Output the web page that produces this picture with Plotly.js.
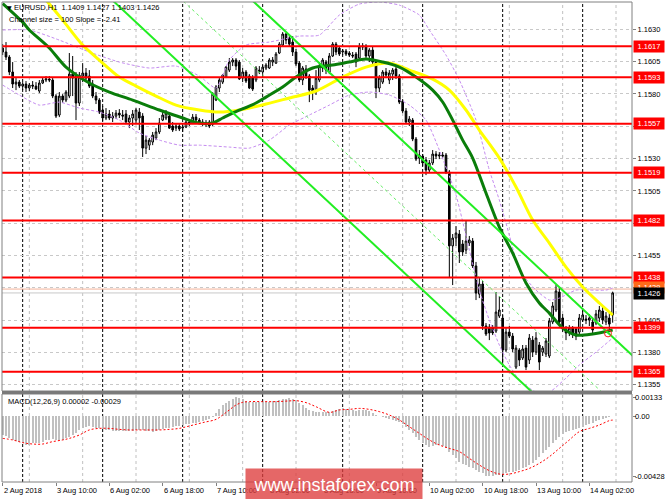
<!DOCTYPE html>
<html><head><meta charset="utf-8">
<script src="https://cdn.plot.ly/plotly-3.0.1.min.js"></script>
<style>html,body{margin:0;padding:0;background:#fff;}#chart{width:665px;height:499px;}</style>
</head><body><div id="chart"></div>
<script>
// ---------- DATA (EURUSD H1, 2 Aug 18:00 .. 14 Aug 09:00) ----------
const opens = [1.16155,1.16125,1.16086,1.15970,1.15877,1.15892,1.15861,1.15877,1.15846,1.15869,1.15861,1.15823,1.15885,1.15908,1.15916,1.15908,1.15784,1.15637,1.15784,1.15753,
1.15784,1.15954,1.15946,1.15730,1.15939,1.15962,1.15939,1.15877,1.15784,1.15753,1.15676,1.15614,1.15645,1.15614,1.15629,1.15652,1.15637,1.15645,1.15583,1.15614,
1.15598,1.15660,1.15629,1.15381,1.15404,1.15428,1.15459,1.15506,1.15598,1.15614,1.15629,1.15552,1.15536,1.15552,1.15536,1.15544,1.15583,1.15575,1.15621,1.15598,
1.15583,1.15567,1.15583,1.15567,1.15753,1.15846,1.15892,1.15931,1.15985,1.16047,1.16063,1.16047,1.15923,1.15970,1.15939,1.15923,1.15908,1.15985,1.15970,1.16001,
1.16001,1.16047,1.16039,1.16117,1.16179,1.16264,1.16233,1.16202,1.16125,1.16039,1.15908,1.15993,1.15939,1.15846,1.15815,1.15908,1.16001,1.16047,1.15970,1.16094,
1.16186,1.16155,1.16125,1.16132,1.16117,1.16101,1.16109,1.16078,1.16163,1.16171,1.16094,1.16140,1.16047,1.15846,1.15892,1.15970,1.15908,1.15954,1.15993,1.15939,
1.15745,1.15668,1.15583,1.15598,1.15451,1.15304,1.15320,1.15289,1.15211,1.15266,1.15335,1.15320,1.15327,1.15327,1.15196,1.14624,1.14685,1.14716,1.14639,1.14592,
1.14647,1.14662,1.14469,1.14251,1.14329,1.14004,1.13996,1.13988,1.13965,1.14081,1.14066,1.13818,1.13957,1.13926,1.13686,1.13818,1.13756,1.13833,1.13741,1.13895,
1.13802,1.13857,1.13802,1.13787,1.13772,1.14035,1.14128,1.14267,1.14066,1.13981,1.13957,1.13988,1.13981,1.13957,1.14050,1.14058,1.14050,1.14035,1.14027,1.14066,
1.14120,1.14035,1.14066,1.14090];
const highs = [1.16186,1.16202,1.16101,1.16047,1.15923,1.15908,1.15892,1.15900,1.15885,1.15900,1.15892,1.15908,1.15931,1.15939,1.15939,1.15923,1.15799,1.15815,1.15799,1.15830,
1.16117,1.16094,1.15970,1.15970,1.16039,1.16001,1.15985,1.15908,1.15815,1.15768,1.15707,1.15691,1.15676,1.15660,1.15676,1.15683,1.15676,1.15676,1.15637,1.15676,
1.15691,1.15691,1.15652,1.15475,1.15459,1.15506,1.15536,1.15614,1.15660,1.15676,1.15645,1.15583,1.15567,1.15567,1.15559,1.15598,1.15606,1.15645,1.15645,1.15614,
1.15606,1.15598,1.15598,1.15815,1.15869,1.15923,1.15954,1.16016,1.16078,1.16078,1.16078,1.16063,1.16001,1.15985,1.15954,1.15946,1.16016,1.16016,1.16024,1.16039,
1.16078,1.16086,1.16125,1.16202,1.16279,1.16272,1.16248,1.16248,1.16148,1.16055,1.16016,1.16024,1.15954,1.15869,1.15985,1.16047,1.16078,1.16063,1.16117,1.16202,
1.16202,1.16171,1.16148,1.16148,1.16132,1.16125,1.16125,1.16194,1.16194,1.16186,1.16155,1.16171,1.16063,1.15946,1.15985,1.16001,1.15985,1.16001,1.16016,1.15954,
1.15761,1.15691,1.15629,1.15614,1.15467,1.15366,1.15335,1.15312,1.15289,1.15366,1.15358,1.15351,1.15351,1.15343,1.15211,1.14716,1.14778,1.14747,1.14670,1.14824,
1.14701,1.14685,1.14500,1.14375,1.14352,1.14027,1.14019,1.14011,1.14267,1.14236,1.14089,1.13988,1.14004,1.13950,1.13857,1.13833,1.13857,1.13857,1.13942,1.13926,
1.13957,1.13880,1.13849,1.13911,1.14066,1.14190,1.14321,1.14298,1.14097,1.14004,1.14011,1.14004,1.13996,1.14097,1.14143,1.14089,1.14097,1.14058,1.14128,1.14159,
1.14151,1.14112,1.14112,1.14270];
const lows = [1.16101,1.16063,1.15946,1.15846,1.15830,1.15846,1.15830,1.15815,1.15823,1.15838,1.15830,1.15807,1.15877,1.15892,1.15892,1.15768,1.15614,1.15621,1.15730,1.15737,
1.15768,1.15784,1.15598,1.15707,1.15892,1.15892,1.15846,1.15768,1.15722,1.15645,1.15590,1.15598,1.15598,1.15583,1.15606,1.15614,1.15598,1.15567,1.15536,1.15552,
1.15567,1.15521,1.15312,1.15335,1.15366,1.15404,1.15443,1.15490,1.15590,1.15598,1.15529,1.15506,1.15513,1.15513,1.15506,1.15536,1.15552,1.15567,1.15583,1.15567,
1.15552,1.15544,1.15536,1.15552,1.15745,1.15815,1.15877,1.15923,1.15970,1.16016,1.15985,1.15908,1.15892,1.15885,1.15838,1.15823,1.15892,1.15954,1.15954,1.15985,
1.15993,1.16016,1.16032,1.16109,1.16171,1.16186,1.16171,1.16094,1.16016,1.15892,1.15869,1.15916,1.15737,1.15753,1.15792,1.15892,1.15970,1.15954,1.15954,1.16086,
1.16101,1.16094,1.16101,1.16094,1.16086,1.16078,1.16008,1.16063,1.16140,1.16078,1.16047,1.16032,1.15768,1.15815,1.15877,1.15923,1.15877,1.15908,1.15916,1.15722,
1.15652,1.15567,1.15552,1.15435,1.15281,1.15258,1.15243,1.15172,1.15196,1.15250,1.15296,1.15296,1.15304,1.15180,1.14383,1.14321,1.14624,1.14492,1.14546,1.14561,
1.14624,1.14453,1.14205,1.14220,1.13973,1.13927,1.13895,1.13934,1.13950,1.14066,1.13702,1.13802,1.13911,1.13802,1.13671,1.13694,1.13741,1.13663,1.13710,1.13764,
1.13780,1.13663,1.13772,1.13764,1.13756,1.14019,1.14112,1.14019,1.13957,1.13895,1.13926,1.13911,1.13895,1.13942,1.14035,1.14019,1.14004,1.13934,1.14011,1.14035,
1.14019,1.14011,1.13965,1.14030];
const closes = [1.16125,1.16086,1.15970,1.15877,1.15892,1.15861,1.15877,1.15846,1.15869,1.15861,1.15838,1.15885,1.15908,1.15916,1.15908,1.15784,1.15629,1.15784,1.15753,1.15815,
1.15954,1.15923,1.15730,1.15946,1.15962,1.15923,1.15861,1.15784,1.15753,1.15660,1.15614,1.15645,1.15614,1.15629,1.15652,1.15637,1.15629,1.15583,1.15614,1.15645,
1.15676,1.15614,1.15381,1.15443,1.15443,1.15482,1.15506,1.15575,1.15637,1.15652,1.15536,1.15521,1.15552,1.15529,1.15544,1.15583,1.15567,1.15621,1.15598,1.15583,
1.15567,1.15575,1.15552,1.15799,1.15854,1.15908,1.15946,1.16008,1.16047,1.16063,1.16016,1.15916,1.15970,1.15900,1.15846,1.15838,1.16001,1.15970,1.16008,1.16024,
1.16063,1.16063,1.16109,1.16186,1.16264,1.16217,1.16186,1.16125,1.16032,1.15908,1.16001,1.15939,1.15830,1.15815,1.15923,1.16016,1.16063,1.15985,1.16094,1.16186,
1.16125,1.16109,1.16132,1.16109,1.16101,1.16094,1.16047,1.16163,1.16171,1.16094,1.16140,1.16047,1.15846,1.15923,1.15970,1.15946,1.15962,1.15985,1.15939,1.15737,
1.15668,1.15583,1.15606,1.15451,1.15296,1.15327,1.15266,1.15211,1.15266,1.15335,1.15320,1.15327,1.15320,1.15196,1.14624,1.14685,1.14724,1.14577,1.14577,1.14662,
1.14670,1.14469,1.14259,1.14329,1.14004,1.13942,1.13950,1.13950,1.14112,1.14128,1.13818,1.13957,1.13926,1.13826,1.13833,1.13741,1.13826,1.13686,1.13911,1.13802,
1.13911,1.13725,1.13833,1.13888,1.14043,1.14159,1.14275,1.14035,1.13981,1.13950,1.13988,1.13942,1.13926,1.14066,1.14089,1.14050,1.14066,1.13973,1.14097,1.14128,
1.14050,1.14081,1.14019,1.14260];

// Moving averages: bar index -> price
const maGreenX = [0,6,8,14,19,26,32,39,47,54,59,63,66,69,76,79,84,88,93,99,104,109,114,119,124,129,132,135,138,141,145,149,153,157,161,164,168,172,177,183];
const maGreen  = [1.16500,1.16356,1.16295,1.16156,1.16008,1.15885,1.15815,1.15753,1.15676,1.15614,1.15575,1.15575,1.15614,1.15652,1.15730,1.15776,1.15854,1.15931,1.16001,1.16024,
1.16047,1.16070,1.16047,1.16008,1.15931,1.15830,1.15738,1.15598,1.15443,1.15304,1.15033,1.14770,1.14569,1.14337,1.14182,1.14104,1.13988,1.13934,1.13942,1.13973];
const maYellowX = [8,13,18,24,29,35,40,46,52,59,65,71,79,86,94,102,109,116,122,129,134,139,143,149,154,159,164,169,174,179,183];
const maYellow  = [1.16682,1.16527,1.16372,1.16179,1.16063,1.15931,1.15861,1.15784,1.15714,1.15676,1.15660,1.15676,1.15722,1.15769,1.15823,1.15931,1.16008,1.16039,1.15985,1.15915,
1.15830,1.15676,1.15521,1.15304,1.15080,1.14824,1.14646,1.14460,1.14306,1.14182,1.14089];

// Bands (violet dashed)
const bandUpX = [0,8,17,26,35,44,52,59,64,68,73,80,89,95,101,107,113,119,125,128,133,137,142,146,149,152,155,160,164,167,172,176,181,183];
const bandUp  = [1.16295,1.16295,1.16217,1.16125,1.16047,1.16001,1.16016,1.15939,1.15846,1.16063,1.16179,1.16202,1.16248,1.16256,1.16411,1.16496,1.16512,1.16488,1.16411,1.16295,
1.16101,1.15908,1.15598,1.15211,1.14979,1.14708,1.14437,1.14282,1.14205,1.14220,1.14282,1.14282,1.14282,1.14298];
const bandLowX = [0,5,11,17,23,29,35,41,47,53,59,68,74,80,86,92,98,104,110,116,122,127,131,136,140,143,146,149,152,155,160,164,169,173,178,183];
const bandLow  = [1.15869,1.15792,1.15714,1.15737,1.15691,1.15660,1.15598,1.15498,1.15443,1.15404,1.15404,1.15389,1.15381,1.15443,1.15559,1.15637,1.15714,1.15792,1.15815,1.15792,
1.15714,1.15598,1.15366,1.15018,1.14592,1.14282,1.14050,1.13857,1.13702,1.13586,1.13493,1.13493,1.13601,1.13702,1.13802,1.13911];

// Linear regression channel (size 100, slope -2.41)
const chanUpperX = [70,189], chanUpper = [1.16642,1.13774];
const chanMidX   = [45,189], chanMid   = [1.16740,1.13270];
const chanLowerX = [25,189], chanLower = [1.16717,1.12765];

// Horizontal levels
const levels = [1.1617,1.1593,1.1557,1.1519,1.1482,1.1438,1.1399,1.1365];
const askPrice = 1.1429;
const signalMarkX = [181.6], signalMarkY = [1.13947];

// MACD(12,26,9)
const macdMain = [-0.00135,-0.00145,-0.00159,-0.00168,-0.00175,-0.00182,-0.00195,-0.00206,-0.00204,-0.00194,-0.00192,-0.00194,-0.00182,-0.00170,-0.00168,-0.00166,-0.00170,-0.00170,-0.00168,-0.00159,
-0.00150,-0.00135,-0.00124,-0.00099,-0.00088,-0.00076,-0.00074,-0.00076,-0.00082,-0.00088,-0.00095,-0.00099,-0.00102,-0.00104,-0.00104,-0.00104,-0.00104,-0.00104,-0.00104,-0.00104,
-0.00102,-0.00099,-0.00102,-0.00104,-0.00108,-0.00111,-0.00106,-0.00099,-0.00094,-0.00088,-0.00082,-0.00076,-0.00072,-0.00069,-0.00064,-0.00059,-0.00055,-0.00052,-0.00047,-0.00040,
-0.00034,-0.00028,-0.00020,-0.00005,0.00019,0.00050,0.00078,0.00095,0.00109,0.00120,0.00133,0.00125,0.00118,0.00110,0.00102,0.00100,0.00102,0.00099,0.00099,0.00100,
0.00102,0.00106,0.00109,0.00114,0.00118,0.00122,0.00125,0.00120,0.00114,0.00095,0.00078,0.00060,0.00043,0.00035,0.00031,0.00031,0.00031,0.00030,0.00031,0.00038,
0.00043,0.00050,0.00054,0.00050,0.00045,0.00040,0.00038,0.00045,0.00043,0.00040,0.00035,0.00019,0.00010,0.00002,-0.00008,-0.00017,-0.00020,-0.00028,-0.00034,-0.00040,
-0.00058,-0.00076,-0.00100,-0.00123,-0.00148,-0.00170,-0.00190,-0.00206,-0.00218,-0.00210,-0.00206,-0.00206,-0.00215,-0.00230,-0.00255,-0.00277,-0.00300,-0.00324,-0.00338,-0.00348,
-0.00360,-0.00372,-0.00384,-0.00395,-0.00405,-0.00424,-0.00426,-0.00428,-0.00422,-0.00419,-0.00413,-0.00407,-0.00400,-0.00395,-0.00389,-0.00383,-0.00372,-0.00360,-0.00348,-0.00336,
-0.00312,-0.00289,-0.00265,-0.00241,-0.00218,-0.00194,-0.00170,-0.00147,-0.00128,-0.00111,-0.00105,-0.00099,-0.00094,-0.00088,-0.00076,-0.00064,-0.00056,-0.00047,-0.00038,-0.00028,
-0.00022,-0.00017,-0.00010,0.00002];
const macdSigX = [0,3,6,9,12,15,18,20,23,26,29,32,35,38,41,44,47,50,53,56,60,64,66,68,70,72,74,78,82,86,88,91,94,98,101,104,107,110,113,116,119,122,125,128,131,134,137,140,143,146,149,152,155,158,161,164,167,170,173,176,179,182,183];
const macdSig  = [-0.00159,-0.00170,-0.00189,-0.00199,-0.00199,-0.00182,-0.00170,-0.00159,-0.00135,-0.00099,-0.00088,-0.00088,-0.00095,-0.00099,-0.00099,-0.00099,-0.00099,-0.00095,-0.00088,-0.00071,
-0.00047,-0.00024,0.00007,0.00043,0.00078,0.00097,0.00102,0.00102,0.00102,0.00107,0.00109,0.00095,0.00066,0.00026,0.00043,0.00047,0.00054,0.00047,0.00031,0.00007,
-0.00028,-0.00076,-0.00123,-0.00170,-0.00206,-0.00230,-0.00253,-0.00301,-0.00348,-0.00388,-0.00412,-0.00412,-0.00395,-0.00372,-0.00336,-0.00289,-0.00230,-0.00170,-0.00111,-0.00088,
-0.00064,-0.00033,-0.00029];

// Axis labels
const priceTicks = [1.1355,1.1380,1.1405,1.1430,1.1455,1.1480,1.1505,1.1530,1.1555,1.1580,1.1605,1.1630];
const macdTicks = [0.00133,0,-0.00428];
const macdTickText = ['0.00133','0.00','-0.00428'];
const timeLabelBars = [0,16,32,48,64,80,96,112,128,144,160,176];
const timeLabels = ['2 Aug 2018','3 Aug 10:00','6 Aug 02:00','6 Aug 18:00','7 Aug 10:00','8 Aug 02:00','8 Aug 18:00','9 Aug 10:00','10 Aug 02:00','10 Aug 18:00','13 Aug 10:00','14 Aug 02:00'];
const daySeparatorBars = [6,30,54,78,102,126,150,174];
const gridBars = [8,24,40,56,72,88,104,120,136,152,168,184];

// ---------- CHART ----------
const F = 'Liberation Sans, Arial, sans-serif';
const FS = 7.5;
const barIndex = opens.map((_, i) => i);
const n = closes.length;
const mainDom = [0.18958, 1], macdDom = [0, 0.18333];

const traces = [];
traces.push({type:'scatter', mode:'lines', x:bandUpX, y:bandUp, line:{color:'#c58cf0', width:1, dash:'3px,2px', shape:'spline', smoothing:0.6}, hoverinfo:'skip'});
traces.push({type:'scatter', mode:'lines', x:bandLowX, y:bandLow, line:{color:'#c58cf0', width:1, dash:'3px,2px', shape:'spline', smoothing:0.6}, hoverinfo:'skip'});
traces.push({type:'scatter', mode:'lines', x:chanMidX, y:chanMid, line:{color:'#66ee66', width:1, dash:'3px,3px'}, hoverinfo:'skip'});
traces.push({type:'candlestick', x:barIndex, open:opens, high:highs, low:lows, close:closes,
  increasing:{line:{color:'#000000', width:1}, fillcolor:'#ffffff'},
  decreasing:{line:{color:'#000000', width:1}, fillcolor:'#000000'},
  whiskerwidth:0, hoverinfo:'skip'});
traces.push({type:'scatter', mode:'lines', x:maYellowX, y:maYellow, line:{color:'#ffff00', width:3, shape:'spline', smoothing:0.8}, hoverinfo:'skip'});
traces.push({type:'scatter', mode:'lines', x:maGreenX, y:maGreen, line:{color:'#0a7d0a', width:3, shape:'spline', smoothing:0.8}, hoverinfo:'skip'});
traces.push({type:'scatter', mode:'lines', x:chanUpperX, y:chanUpper, line:{color:'#22ee22', width:2}, hoverinfo:'skip'});
traces.push({type:'scatter', mode:'lines', x:chanLowerX, y:chanLower, line:{color:'#22ee22', width:2}, hoverinfo:'skip'});
traces.push({type:'scatter', mode:'markers', x:signalMarkX, y:signalMarkY, marker:{symbol:'circle-open', size:7, color:'#ff2020', line:{width:1}}, hoverinfo:'skip'});
// MACD pane
traces.push({type:'bar', x:barIndex, y:macdMain, xaxis:'x', yaxis:'y2', marker:{color:'#c0c0c0', line:{width:0}}, width:0.6, hoverinfo:'skip'});
traces.push({type:'scatter', mode:'lines', x:macdSigX, y:macdSig, xaxis:'x', yaxis:'y2', line:{color:'#ff0000', width:1, dash:'2px,2px', shape:'spline'}, hoverinfo:'skip'});

const shapes = [];
gridBars.forEach(b => shapes.push({type:'line', xref:'x', yref:'paper', x0:b, x1:b, y0:0, y1:1, line:{color:'#c0c0c0', width:1, dash:'3px,3px'}, layer:'below'}));
daySeparatorBars.forEach(b => shapes.push({type:'line', xref:'x', yref:'paper', x0:b, x1:b, y0:0, y1:1, line:{color:'#000000', width:1, dash:'3px,2px'}, layer:'below'}));
// bid / ask lines
shapes.push({type:'line', xref:'paper', x0:0, x1:1, yref:'y', y0:askPrice, y1:askPrice, line:{color:'#f4b49a', width:1}, layer:'below'});
shapes.push({type:'line', xref:'paper', x0:0, x1:1, yref:'y', y0:closes[n-1], y1:closes[n-1], line:{color:'#c8c8c8', width:1}, layer:'below'});
levels.forEach(lv => shapes.push({type:'line', xref:'paper', x0:0, x1:1, yref:'y', y0:lv, y1:lv, line:{color:'#ff0000', width:2}, layer:'above'}));
// frames
shapes.push({type:'rect', xref:'paper', yref:'paper', x0:0, x1:1, y0:mainDom[0], y1:1, line:{color:'#808080', width:1}, fillcolor:'rgba(0,0,0,0)', layer:'above'});
shapes.push({type:'rect', xref:'paper', yref:'paper', x0:0, x1:1, y0:macdDom[0], y1:macdDom[1], line:{color:'#808080', width:1}, fillcolor:'rgba(0,0,0,0)', layer:'above'});
shapes.push({type:'rect', xref:'paper', yref:'paper', x0:0, x1:1, y0:macdDom[1], y1:mainDom[0], line:{width:0}, fillcolor:'#7a7a7a', layer:'above'});

const ann = [];
// header
ann.push({xref:'paper', yref:'paper', x:0.004, y:0.9875, xanchor:'left', yanchor:'middle', showarrow:false, text:'▼', font:{family:'DejaVu Sans', size:6, color:'#000'}});
ann.push({xref:'paper', yref:'paper', x:0.0155, y:0.9875, xanchor:'left', yanchor:'middle', showarrow:false,
  text:'EURUSD,H1  ' + [opens[n-1], highs[n-1], lows[n-1], closes[n-1]].map(v => v.toFixed(4)).join(' '), font:{family:F, size:FS, color:'#000'}});
ann.push({xref:'paper', yref:'paper', x:0.008, y:0.9625, xanchor:'left', yanchor:'middle', showarrow:false,
  text:'Channel size = 100 Slope = -2.41', font:{family:F, size:FS, color:'#000'}});
ann.push({xref:'paper', yref:'paper', x:0.006, y:0.16875, xanchor:'left', yanchor:'middle', showarrow:false,
  text:'MACD(12,26,9) ' + macdMain[n-1].toFixed(5) + ' ' + macdSig[macdSig.length-1].toFixed(5), font:{family:F, size:FS, color:'#000'}});
// MACD scale labels (drawn close to the axis so the longest one fits)
macdTicks.forEach((v, i) => ann.push({xref:'paper', x:1, xanchor:'left', xshift:1, yref:'y2', y:v, yanchor:'middle', showarrow:false,
  text:macdTickText[i], font:{family:F, size:FS, color:'#000'}}));
// level labels
levels.forEach(lv => ann.push({xref:'paper', x:1, xanchor:'left', xshift:1, yref:'y', y:lv, yanchor:'middle', showarrow:false,
  text:lv.toFixed(4), font:{family:F, size:FS, color:'#ffffff'}, bgcolor:'#ff0000', borderpad:1, width:28}));
ann.push({xref:'paper', x:1, xanchor:'left', xshift:1, yref:'y', y:askPrice, yanchor:'middle', yshift:2, showarrow:false,
  text:askPrice.toFixed(4), font:{family:F, size:FS, color:'#ffffff'}, bgcolor:'#ff6a1a', borderpad:1, width:28});
ann.push({xref:'paper', x:1, xanchor:'left', xshift:1, yref:'y', y:closes[n-1], yanchor:'middle', yshift:-1, showarrow:false,
  text:closes[n-1].toFixed(4), font:{family:F, size:FS, color:'#ffffff'}, bgcolor:'#000000', borderpad:1, width:28});
// time labels
timeLabelBars.forEach((b, i) => ann.push({xref:'x', x:b, xanchor:'left', xshift:-1, yref:'paper', y:0, yanchor:'top', yshift:-2, showarrow:false,
  text:timeLabels[i], font:{family:F, size:FS, color:'#000'}}));
// watermark
ann.push({xref:'paper', yref:'paper', x:0.3857, y:0.0292, xanchor:'left', yanchor:'top', showarrow:false, width:176, height:31, borderpad:0,
  bgcolor:'rgba(222,60,60,0.78)', text:'www.instaforex.com', valign:'middle', font:{family:F, size:18, color:'#ffffff'}});

const layout = {
  width:665, height:499, autosize:false,
  margin:{l:2, r:33, t:2, b:17, pad:0},
  paper_bgcolor:'#ffffff', plot_bgcolor:'#ffffff',
  showlegend:false, bargap:0,
  font:{family:F, size:FS, color:'#000'},
  xaxis:{range:[-0.2,188.8], anchor:'y2', showgrid:false, zeroline:false, showline:false,
    tickmode:'array', tickvals:timeLabelBars, ticks:'outside', ticklen:3, tickcolor:'#808080', showticklabels:false,
    rangeslider:{visible:false}, fixedrange:true},
  yaxis:{domain:mainDom, range:[1.13501,1.16512], side:'right', anchor:'x',
    tickmode:'array', tickvals:priceTicks, ticktext:priceTicks.map(v => v.toFixed(4)),
    ticks:'outside', ticklen:3, tickcolor:'#808080', tickfont:{family:F, size:FS, color:'#000'},
    showgrid:true, gridcolor:'#c8c8c8', griddash:'3px,3px', gridwidth:1, zeroline:false, showline:false, fixedrange:true},
  yaxis2:{domain:macdDom, range:[-0.004687,0.001562], side:'right', anchor:'x',
    tickmode:'array', tickvals:macdTicks, showticklabels:false,
    ticks:'outside', ticklen:3, tickcolor:'#808080',
    showgrid:false, zeroline:false, showline:false, fixedrange:true},
  shapes:shapes, annotations:ann
};
Plotly.newPlot('chart', traces, layout, {staticPlot:true, displayModeBar:false});
</script></body></html>
